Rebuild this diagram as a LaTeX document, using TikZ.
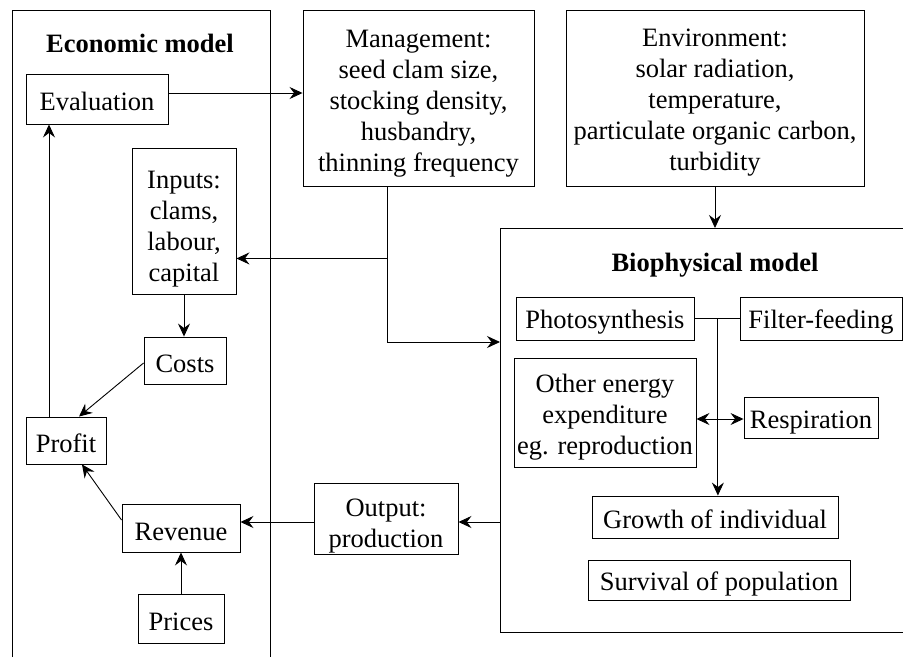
\documentclass[tikz,border=0pt]{standalone}
\usepackage{fontspec}
\setmainfont{Liberation Serif}
\usetikzlibrary{arrows.meta,calc}
\newcommand\myStrut[1]{\rule{0pt}{#1pt}}
\begin{document}
\begin{tikzpicture}[x=1pt,y=-1pt,
  every node/.style={font=\fontsize{26.5}{31}\selectfont},
  box/.style={draw,line width=0.9pt,inner sep=0pt,align=center},
  title/.style={font=\fontsize{26.5}{31}\selectfont\bfseries},
  frame/.style={line width=0.9pt},
  tip/.style={},
  arr/.style={line width=0.9pt,-{Stealth[length=13pt,width=12pt,inset=4.5pt]}},
  arrboth/.style={line width=0.9pt,{Stealth[length=13pt,width=12pt,inset=4.5pt]}-{Stealth[length=13pt,width=12pt,inset=4.5pt]}},
  conn/.style={line width=0.9pt}]
\useasboundingbox (0,0) rectangle (903,657);
\fill[white] (0,0) rectangle (903,657);

% frames
\draw[frame] (12,657) -- (12,10) -- (270,10) -- (270,657);
\draw[frame] (903,228) -- (500,228) -- (500,632) -- (903,632);
\coordinate (bioTop) at (715,228);
\coordinate (bioIn) at (500,342);
\coordinate (bioOut) at (500,522);

\node[title] (econ) at (140,43) {Economic model};
\node[title] (bio) at (715,265) {Biophysical model};

% economic nodes
\node[box,minimum width=142pt,minimum height=50pt] (eval) at (97,99) {\myStrut{24}Evaluation};
\node[box,minimum width=104pt,minimum height=146pt] (inputs) at (184,221) {\myStrut{34}Inputs:\\clams,\\labour,\\capital};
\node[box,minimum width=82pt,minimum height=47pt] (costs) at (185,360.5) {\myStrut{24}Costs};
\node[box,minimum width=80pt,minimum height=47pt] (profit) at (66,440.5) {\myStrut{24}Profit};
\node[box,minimum width=118pt,minimum height=48pt] (revenue) at (181,528) {\myStrut{26}Revenue};
\node[box,minimum width=86pt,minimum height=49pt] (prices) at (181,618.5) {\myStrut{24}Prices};

% top nodes
\node[box,minimum width=231pt,minimum height=176pt] (mgmt) at (418.5,98)
  {\myStrut{28}Management:\\seed clam size,\\stocking density,\\husbandry,\\thinning frequency};
\node[box,minimum width=298pt,minimum height=176pt] (env) at (715,98)
  {\myStrut{27}Environment:\\solar radiation,\\temperature,\\particulate organic carbon,\\turbidity};

\node[box,minimum width=144pt,minimum height=71pt] (output) at (386,518.5) {\myStrut{32}Output:\\production};

% biophysical nodes
\node[box,minimum width=178pt,minimum height=43pt] (photo) at (605,318.5) {\myStrut{26}Photosynthesis};
\node[box,minimum width=162pt,minimum height=43pt] (filter) at (821,318.5) {\myStrut{26}Filter-feeding};
\node[box,minimum width=182pt,minimum height=109pt] (other) at (605,412.5) {\myStrut{28}Other energy\\expenditure\\eg. reproduction};
\node[box,minimum width=134pt,minimum height=41pt] (resp) at (811,417.5) {\myStrut{28}Respiration};
\node[box,minimum width=246pt,minimum height=42pt] (growth) at (715,517) {\myStrut{24}Growth of individual};
\node[box,minimum width=262pt,minimum height=40pt] (survival) at (719,580) {\myStrut{26}Survival of population};

% connectors
\path ([yshift=6pt]eval.east) coordinate (ea);
\draw[arr] (ea) -- (ea -| mgmt.west);

\coordinate (mdrop) at ([xshift=-31.5pt]mgmt.south);
\coordinate (mbranch) at ($(mdrop)+(0,72)$);
\draw[arr] (mdrop) -- (mdrop |- bioIn) -- (bioIn);
\draw[arr] (mbranch) -- (mbranch -| inputs.east);

\draw[arr] (env.south) -- (bioTop);

\draw[arr] (inputs.south) -- (inputs.south |- costs.north);
\draw[arr] ([yshift=-2.5pt]costs.west) -- ([xshift=13pt]profit.north);
\draw[arr] ([yshift=8pt]revenue.west) -- ([xshift=16pt]profit.south);
\coordinate (pu) at ([xshift=-17pt]profit.north);
\draw[arr] (pu) -- (pu |- eval.south);
\draw[arr] (prices.north) -- (revenue.south);

\draw[arr] (bioOut) -- (bioOut -| output.east);
\coordinate (ow) at (output.west |- bioOut);
\draw[arr] (ow) -- (ow -| revenue.east);

\coordinate (junc) at ($(photo.east)!0.52!(filter.west)$);
\draw[conn] (photo.east) -- (filter.west);
\draw[arr] (junc) -- (junc |- growth.north);
\draw[arrboth] ([yshift=-1.5pt]resp.west -| other.east) -- ([yshift=-1.5pt]resp.west);
\end{tikzpicture}
\end{document}
